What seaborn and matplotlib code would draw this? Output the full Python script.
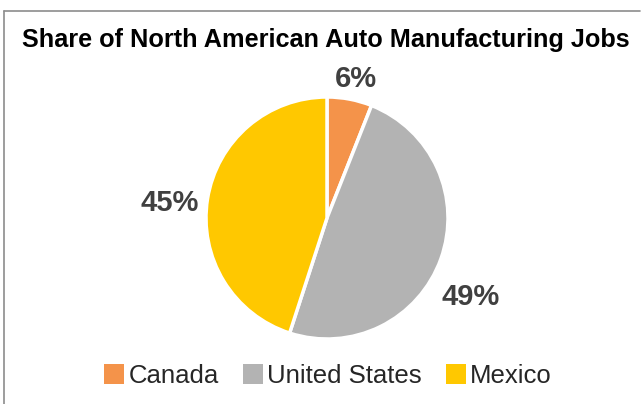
import matplotlib
matplotlib.use("Agg")
import matplotlib.pyplot as plt
import seaborn as sns
from matplotlib.lines import Line2D
from matplotlib.patches import Patch
import numpy as np

categories = ["Canada", "United States", "Mexico"]
shares = [6, 49, 45]
label_texts = ["6%", "49%", "45%"]
colors = ["#F4934A", "#B3B3B3", "#FFC800"]

sns.set_theme(style="white")
plt.rcParams['font.family'] = ['Liberation Sans', 'DejaVu Sans']

W, H = 642, 404
fig = plt.figure(figsize=(W / 100, H / 100), dpi=100)
fig.patch.set_facecolor("white")

# pie axes: center (327,218), radius ~121 px
cx, cy, r = 327, 218, 121
ax = fig.add_axes([(cx - r) / W, 1 - (cy + r) / H, 2 * r / W, 2 * r / H])
wedges, _ = ax.pie(shares, colors=colors, startangle=90, counterclock=False,
                   wedgeprops=dict(edgecolor="white", linewidth=2.5))
ax.set_aspect("equal")
ax.set_xlim(-1, 1)
ax.set_ylim(-1, 1)
ax.axis("off")

# label placement (distance in radii, angular offset in degrees)
dists = [1.17, 1.35, 1.31]
offsets = [-1.0, -9.0, 3.5]
for w, t, d, o in zip(wedges, label_texts, dists, offsets):
    ang = np.deg2rad((w.theta1 + w.theta2) / 2 + o)
    ax.text(d * np.cos(ang), d * np.sin(ang), t, ha="center", va="center",
            fontsize=21, fontweight="bold", color="#404040", clip_on=False)

fig.text(326 / W, 1 - 40 / H, "Share of North American Auto Manufacturing Jobs",
         ha="center", va="center", fontsize=18.2, fontweight="bold", color="#000000")

handles = [Patch(facecolor=c, edgecolor="none") for c in colors]
fig.legend(handles, categories, loc="center", bbox_to_anchor=(328 / W, 1 - 376 / H),
           ncol=3, frameon=False, fontsize=18.5, handlelength=0.78, handleheight=0.78,
           handletextpad=0.15, columnspacing=0.95, labelcolor="#262626")

# border (top and left only visible)
fig.add_artist(Line2D([4 / W, 640 / W], [1 - 11 / H, 1 - 11 / H], color="#8C8C8C", lw=1.2))
fig.add_artist(Line2D([4 / W, 4 / W], [1 - 11 / H, 0], color="#8C8C8C", lw=1.2))

fig.savefig("out.png", dpi=100, facecolor="white")
